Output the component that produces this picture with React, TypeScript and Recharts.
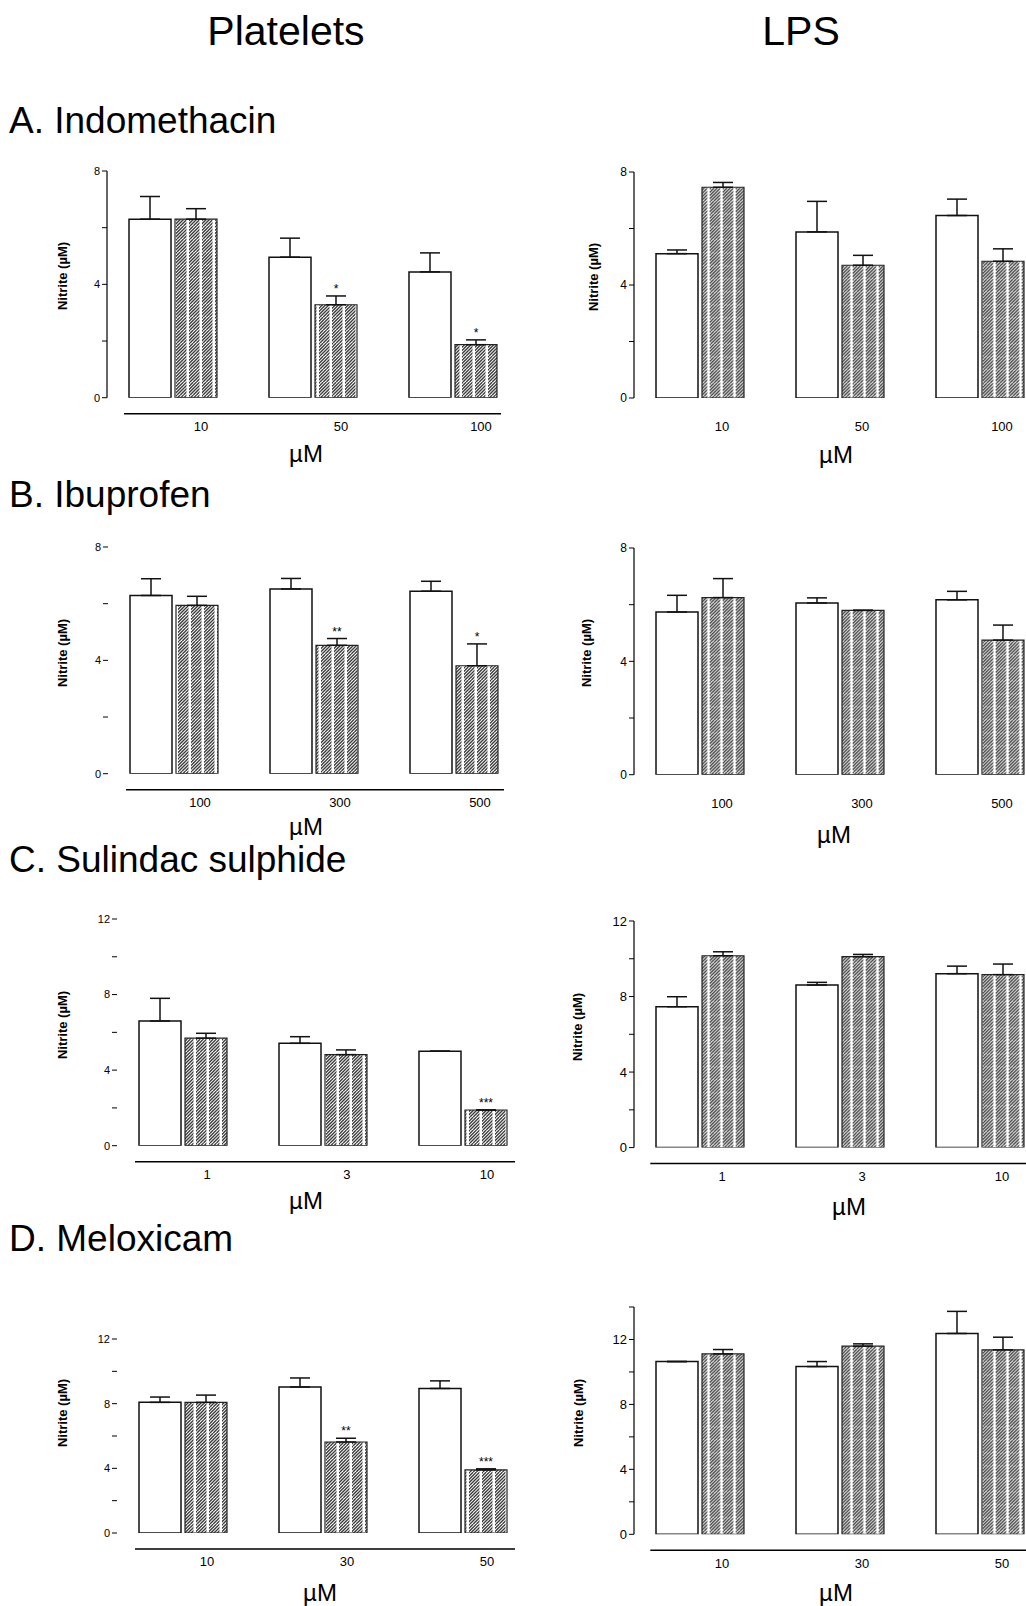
import React from "react";
import { BarChart, Bar, XAxis, YAxis, ErrorBar, LabelList } from "recharts";

// dose labels (µM)
const indoDoses = ["10", "50", "100"];
const ibuDoses = ["100", "300", "500"];
const sulDoses = ["1", "3", "10"];
const meloDoses = ["10", "30", "50"];

// y ticks
const ticks8 = [0, 2, 4, 6, 8];
const ticks12 = [0, 2, 4, 6, 8, 10, 12];
const ticks14 = [0, 2, 4, 6, 8, 10, 12, 14];

// A. Indomethacin
const indoPltCtrl = [6.3, 4.96, 4.44];
const indoPltCtrlErr = [0.8, 0.67, 0.67];
const indoPltDrug = [6.3, 3.28, 1.87];
const indoPltDrugErr = [0.37, 0.31, 0.17];
const indoPltSig = ["", "*", "*"];

const indoLpsCtrl = [5.11, 5.88, 6.46];
const indoLpsCtrlErr = [0.13, 1.08, 0.58];
const indoLpsDrug = [7.46, 4.7, 4.84];
const indoLpsDrugErr = [0.17, 0.35, 0.44];
const indoLpsSig = ["", "", ""];

// B. Ibuprofen
const ibuPltCtrl = [6.29, 6.52, 6.44];
const ibuPltCtrlErr = [0.59, 0.37, 0.35];
const ibuPltDrug = [5.94, 4.53, 3.81];
const ibuPltDrugErr = [0.32, 0.24, 0.77];
const ibuPltSig = ["", "**", "*"];

const ibuLpsCtrl = [5.74, 6.06, 6.17];
const ibuLpsCtrlErr = [0.59, 0.18, 0.3];
const ibuLpsDrug = [6.25, 5.8, 4.75];
const ibuLpsDrugErr = [0.67, 0, 0.53];
const ibuLpsSig = ["", "", ""];

// C. Sulindac sulphide
const sulPltCtrl = [6.6, 5.42, 5.0];
const sulPltCtrlErr = [1.2, 0.35, 0];
const sulPltDrug = [5.69, 4.82, 1.89];
const sulPltDrugErr = [0.26, 0.25, 0];
const sulPltSig = ["", "", "***"];

const sulLpsCtrl = [7.46, 8.61, 9.21];
const sulLpsCtrlErr = [0.53, 0.14, 0.4];
const sulLpsDrug = [10.16, 10.11, 9.16];
const sulLpsDrugErr = [0.21, 0.12, 0.56];
const sulLpsSig = ["", "", ""];

// D. Meloxicam
const meloPltCtrl = [8.08, 9.03, 8.94];
const meloPltCtrlErr = [0.33, 0.56, 0.47];
const meloPltDrug = [8.08, 5.63, 3.9];
const meloPltDrugErr = [0.45, 0.23, 0.07];
const meloPltSig = ["", "**", "***"];

const meloLpsCtrl = [10.64, 10.33, 12.37];
const meloLpsCtrlErr = [0, 0.31, 1.36];
const meloLpsDrug = [11.11, 11.59, 11.36];
const meloLpsDrugErr = [0.27, 0.14, 0.78];
const meloLpsSig = ["", "", ""];

const FONT = "'Liberation Sans', Arial, Helvetica, sans-serif";
const PLOT_W = 420;
const YW = 50;
const MT = 10;
const PAD_B = 16;
const XH = 30;

// hatch tile: "///" lines with a white vertical gap, like the scanned fill
const TILE = 13;
const HATCH_OFFSETS = [0, 3.25, 6.5, 9.75, 13, 16.25, 19.5, 22.75, 26];

type PanelProps = {
  id: string;
  doses: string[];
  ctrl: number[];
  ctrlErr: number[];
  drug: number[];
  drugErr: number[];
  sig: string[];
  axisX: number;
  topY: number;
  zeroY: number;
  yMax: number;
  ticks: number[];
  yLine: boolean;
  xLine: [number, number] | null;
  tickDx: number;
  yFont: number;
};

const starLabel = (vals: number[], errs: number[]) => (props: any) => {
  const { x, y, width, height, value, index } = props;
  if (!value) return null;
  const k = Number(height) / vals[index];
  const capY = Number(y) - errs[index] * k;
  return (
    <text
      x={Number(x) + Number(width) / 2}
      y={capY - 3}
      textAnchor="middle"
      fontSize={12}
      fontFamily={FONT}
      fill="#000"
    >
      {value}
    </text>
  );
};

function Panel(p: PanelProps) {
  const rows = p.doses.map((dose, i) => ({
    dose,
    ctrl: p.ctrl[i],
    drug: p.drug[i],
    ctrlErr: [0, p.ctrlErr[i]],
    drugErr: [0, p.drugErr[i]],
    sig: p.sig[i],
  }));
  const axisH = p.zeroY - p.topY;
  const plotH = axisH + PAD_B;
  const hatchId = `hatch-${p.id}`;

  return (
    <div
      style={{
        position: "absolute",
        left: p.axisX - YW,
        top: p.topY - MT,
      }}
    >
      <BarChart
        width={YW + PLOT_W}
        height={MT + plotH + XH}
        data={rows}
        margin={{ top: MT, right: 0, bottom: 0, left: 0 }}
        barGap={4}
        barSize={42}
      >
        <defs>
          <pattern
            id={hatchId}
            patternUnits="userSpaceOnUse"
            width={TILE}
            height={TILE}
            x={p.axisX % TILE}
          >
            <rect width={TILE} height={TILE} fill="#fff" />
            {HATCH_OFFSETS.map((c) => (
              <line
                key={c}
                x1={c}
                y1={0}
                x2={c - TILE}
                y2={TILE}
                stroke="#3a3a3a"
                strokeWidth={1.3}
              />
            ))}
            <rect x={9.5} width={2.5} height={TILE} fill="#fff" />
          </pattern>
        </defs>
        <XAxis
          dataKey="dose"
          height={XH}
          interval={0}
          padding={{ left: -4, right: 4 }}
          tickLine={false}
          axisLine={
            p.xLine
              ? {
                  stroke: "#000",
                  strokeWidth: 1.5,
                  strokeDasharray: `0 ${p.xLine[0]} ${p.xLine[1]} 3000`,
                }
              : false
          }
          tick={{ fontSize: 13, fill: "#000", fontFamily: FONT, dx: p.tickDx }}
        />
        <YAxis
          type="number"
          domain={[0, p.yMax]}
          ticks={p.ticks}
          interval={0}
          allowDataOverflow
          width={YW}
          padding={{ top: 0, bottom: PAD_B }}
          tickSize={5}
          tickMargin={2}
          tickFormatter={(v: number) => (v % 4 === 0 ? String(v) : "")}
          tick={{ fontSize: p.yFont, fill: "#000", fontFamily: FONT }}
          tickLine={{ stroke: "#000" }}
          axisLine={
            p.yLine
              ? { stroke: "#000", strokeWidth: 1.2, strokeDasharray: `${axisH} 3000` }
              : false
          }
        />
        <Bar
          dataKey="ctrl"
          fill="#fff"
          stroke="#111"
          strokeWidth={1.5}
          isAnimationActive={false}
        >
          <ErrorBar dataKey="ctrlErr" direction="y" width={10} stroke="#111" strokeWidth={1.5} />
        </Bar>
        <Bar
          dataKey="drug"
          fill={`url(#${hatchId})`}
          stroke="#222"
          strokeWidth={1.2}
          isAnimationActive={false}
        >
          <ErrorBar dataKey="drugErr" direction="y" width={10} stroke="#111" strokeWidth={1.5} />
          <LabelList dataKey="sig" content={starLabel(p.drug, p.drugErr)} />
        </Bar>
      </BarChart>
    </div>
  );
}

const panels: PanelProps[] = [
  {
    id: "a-plt", doses: indoDoses, ctrl: indoPltCtrl, ctrlErr: indoPltCtrlErr,
    drug: indoPltDrug, drugErr: indoPltDrugErr, sig: indoPltSig,
    axisX: 107, topY: 171, zeroY: 397.7, yMax: 8, ticks: ticks8,
    yLine: true, xLine: [17, 377], tickDx: 28, yFont: 11,
  },
  {
    id: "a-lps", doses: indoDoses, ctrl: indoLpsCtrl, ctrlErr: indoLpsCtrlErr,
    drug: indoLpsDrug, drugErr: indoLpsDrugErr, sig: indoLpsSig,
    axisX: 633.7, topY: 172.3, zeroY: 398.3, yMax: 8, ticks: ticks8,
    yLine: true, xLine: null, tickDx: 22, yFont: 12,
  },
  {
    id: "b-plt", doses: ibuDoses, ctrl: ibuPltCtrl, ctrlErr: ibuPltCtrlErr,
    drug: ibuPltDrug, drugErr: ibuPltDrugErr, sig: ibuPltSig,
    axisX: 108, topY: 547.3, zeroY: 774, yMax: 8, ticks: ticks8,
    yLine: false, xLine: [18, 378], tickDx: 26, yFont: 11,
  },
  {
    id: "b-lps", doses: ibuDoses, ctrl: ibuLpsCtrl, ctrlErr: ibuLpsCtrlErr,
    drug: ibuLpsDrug, drugErr: ibuLpsDrugErr, sig: ibuLpsSig,
    axisX: 633.7, topY: 548.3, zeroY: 775, yMax: 8, ticks: ticks8,
    yLine: true, xLine: null, tickDx: 22, yFont: 12,
  },
  {
    id: "c-plt", doses: sulDoses, ctrl: sulPltCtrl, ctrlErr: sulPltCtrlErr,
    drug: sulPltDrug, drugErr: sulPltDrugErr, sig: sulPltSig,
    axisX: 117, topY: 919, zeroY: 1145.7, yMax: 12, ticks: ticks12,
    yLine: false, xLine: [18, 380], tickDx: 24, yFont: 11,
  },
  {
    id: "c-lps", doses: sulDoses, ctrl: sulLpsCtrl, ctrlErr: sulLpsCtrlErr,
    drug: sulLpsDrug, drugErr: sulLpsDrugErr, sig: sulLpsSig,
    axisX: 633.7, topY: 920.7, zeroY: 1147.3, yMax: 12, ticks: ticks12,
    yLine: true, xLine: [16.3, 500], tickDx: 22, yFont: 13,
  },
  {
    id: "d-plt", doses: meloDoses, ctrl: meloPltCtrl, ctrlErr: meloPltCtrlErr,
    drug: meloPltDrug, drugErr: meloPltDrugErr, sig: meloPltSig,
    axisX: 117, topY: 1339.3, zeroY: 1533.3, yMax: 12, ticks: ticks12,
    yLine: false, xLine: [18, 380], tickDx: 24, yFont: 11,
  },
  {
    id: "d-lps", doses: meloDoses, ctrl: meloLpsCtrl, ctrlErr: meloLpsCtrlErr,
    drug: meloLpsDrug, drugErr: meloLpsDrugErr, sig: meloLpsSig,
    axisX: 633.7, topY: 1306.7, zeroY: 1534, yMax: 14, ticks: ticks14,
    yLine: true, xLine: [16.3, 500], tickDx: 22, yFont: 13,
  },
];

// text placed around the panels
const sectionTitles = [
  { text: "A. Indomethacin", y: 133 },
  { text: "B. Ibuprofen", y: 507 },
  { text: "C. Sulindac sulphide", y: 872 },
  { text: "D. Meloxicam", y: 1251 },
];
const unitLabels = [
  [306, 462], [836, 463], [306, 835], [834, 843],
  [306, 1209], [849, 1215], [320, 1601], [836, 1601],
];
const yLabels = [
  [62, 276], [593, 277], [62, 653], [586, 653],
  [62, 1025], [577, 1027], [62, 1413], [578, 1413],
];

export default function App() {
  return (
    <div
      style={{
        position: "absolute",
        left: 0,
        top: 0,
        width: 1026,
        height: 1606,
        overflow: "hidden",
        background: "#fff",
        fontFamily: FONT,
      }}
    >
      {panels.map((p) => (
        <Panel key={p.id} {...p} />
      ))}
      <svg
        width={1026}
        height={1606}
        style={{ position: "absolute", left: 0, top: 0, pointerEvents: "none" }}
        fontFamily={FONT}
      >
        <text x={286} y={45} fontSize={41} textAnchor="middle" fill="#000">
          Platelets
        </text>
        <text x={801} y={45} fontSize={41} textAnchor="middle" fill="#000">
          LPS
        </text>
        {sectionTitles.map((t) => (
          <text key={t.text} x={9} y={t.y} fontSize={37} fill="#000">
            {t.text}
          </text>
        ))}
        {unitLabels.map(([x, y], i) => (
          <text key={`u${i}`} x={x} y={y} fontSize={24} textAnchor="middle" fill="#000">
            µM
          </text>
        ))}
        {yLabels.map(([x, y], i) => (
          <text
            key={`y${i}`}
            transform={`translate(${x},${y}) rotate(-90)`}
            fontSize={13}
            fontWeight="bold"
            textAnchor="middle"
            dominantBaseline="central"
            fill="#000"
          >
            Nitrite (µM)
          </text>
        ))}
      </svg>
    </div>
  );
}
